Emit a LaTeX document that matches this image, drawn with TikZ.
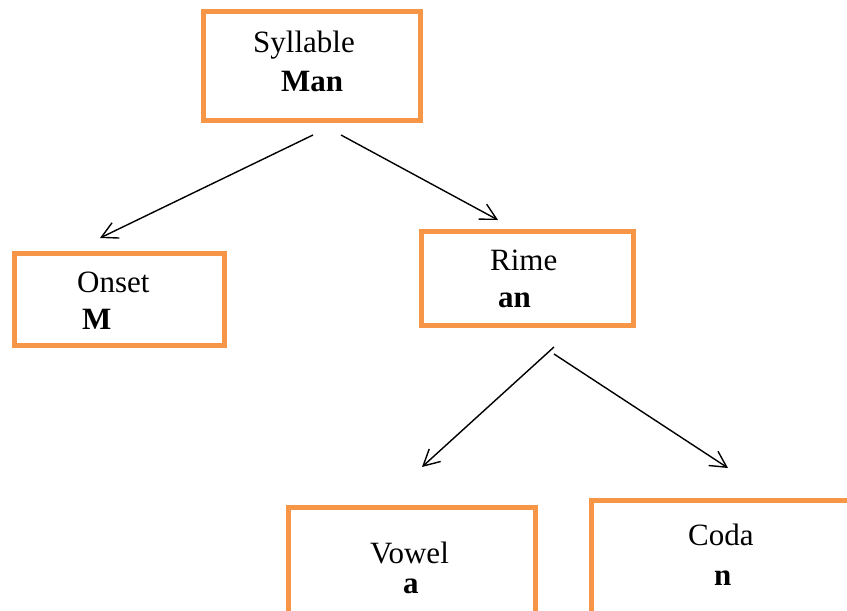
\documentclass[tikz,border=0pt]{standalone}
\usepackage{fontspec}
\setmainfont{Liberation Serif}
\usetikzlibrary{arrows.meta}
\definecolor{boxorange}{HTML}{F79646}
\tikzset{
  box/.style={draw=boxorange, line width=5pt, rectangle, inner sep=0pt, fill=none},
  lbl/.style={anchor=base west, inner sep=0pt, font=\fontsize{31}{37}\selectfont},
  blbl/.style={lbl, font=\fontsize{31}{37}\selectfont\bfseries},
  link/.style={line width=1.4pt, -{Straight Barb[length=16pt,width=17pt,line width=1.4pt]}}
}
\begin{document}
\begin{tikzpicture}[x=1pt,y=-1pt]
\useasboundingbox (0,0) rectangle (847,611);
\clip (0,0) rectangle (847,611);
\fill[white] (0,0) rectangle (847,611);
% boxes
\node[box, minimum width=217pt, minimum height=109pt] (syl) at (312,65.5) {};
\node[box, minimum width=210pt, minimum height=92.5pt] (ons) at (119.5,299.25) {};
\node[box, minimum width=211.5pt, minimum height=94.5pt] (rim) at (527.25,278.25) {};
\node[box, minimum width=247pt, minimum height=142.5pt] (vow) at (411.5,578.75) {};
\node[box, minimum width=309pt, minimum height=149.5pt] (cod) at (745.5,575.25) {};
% texts
\node[lbl]  (sylT) at (253,52) {Syllable};
\node[blbl] (sylW) at (281,91) {Man};
\node[lbl]  (onsT) at (77,292) {Onset};
\node[blbl] (onsW) at (82,329) {M};
\node[lbl]  (rimT) at (490,270) {Rime};
\node[blbl] (rimW) at (498,307) {an};
\node[lbl]  (vowT) at (370,563) {Vowel};
\node[blbl] (vowW) at (403,593) {a};
\node[lbl]  (codT) at (688,545) {Coda};
\node[blbl] (codW) at (714,585) {n};
% connector ends
\coordinate (a1) at (313,135);
\coordinate (a2) at (100,238);
\coordinate (b1) at (341,135);
\coordinate (b2) at (498,220);
\coordinate (c1) at (554,347);
\coordinate (c2) at (422,467);
\coordinate (d1) at (554,354);
\coordinate (d2) at (728,468);
\draw[link] (a1) -- (a2);
\draw[link] (b1) -- (b2);
\draw[link] (c1) -- (c2);
\draw[link] (d1) -- (d2);
\end{tikzpicture}
\end{document}
